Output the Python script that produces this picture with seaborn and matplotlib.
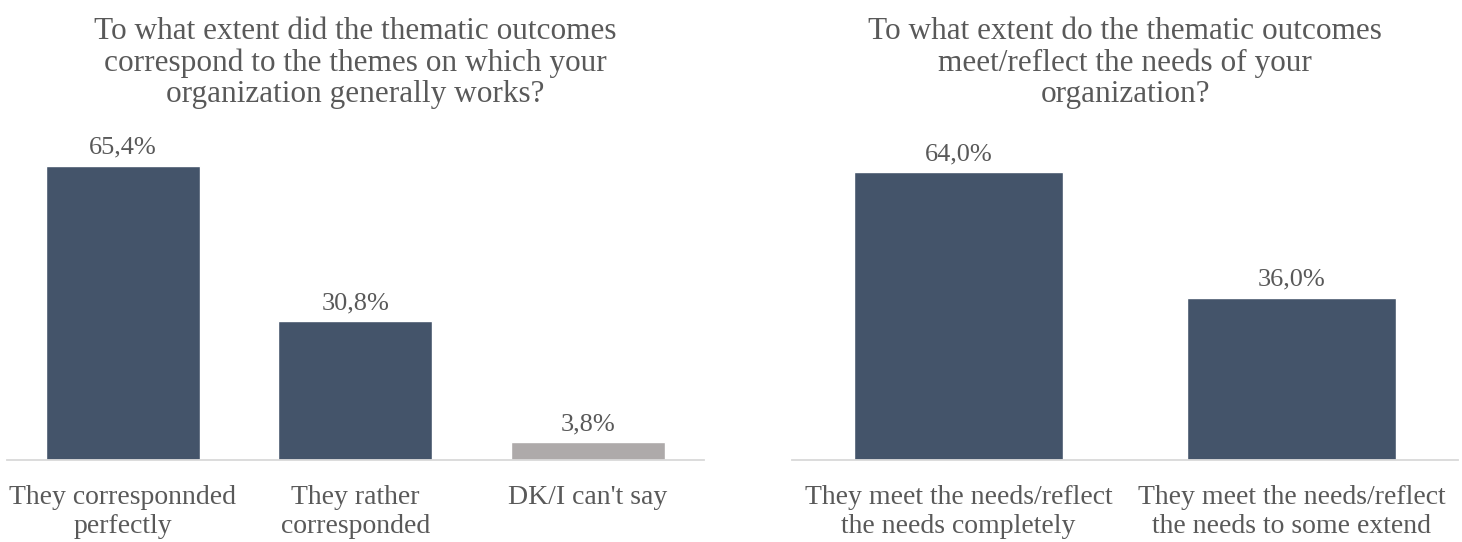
import matplotlib
matplotlib.use("Agg")
import matplotlib.pyplot as plt
import seaborn as sns
import pandas as pd

# Survey results, left panel
left_title = "To what extent did the thematic outcomes\ncorrespond to the themes on which your\norganization generally works?"
left_categories = ["They corresponnded\nperfectly", "They rather\ncorresponded", "DK/I can't say"]
left_values = [65.4, 30.8, 3.8]
left_colors = ["#44546A", "#44546A", "#AEAAAA"]

# Survey results, right panel
right_title = "To what extent do the thematic outcomes\nmeet/reflect the needs of your\norganization?"
right_categories = ["They meet the needs/reflect\nthe needs completely", "They meet the needs/reflect\nthe needs to some extend"]
right_values = [64.0, 36.0]
right_colors = ["#44546A", "#44546A"]

sns.set_theme(style="white")
plt.rcParams["font.family"] = ["Liberation Serif", "DejaVu Serif"]

TEXT = "#595959"
W, H = 1462, 542
fig = plt.figure(figsize=(W / 100, H / 100), dpi=100)

base_px = 459.5
top_px = 130
px_per_pct = 4.49
ymax = (base_px - top_px) / px_per_pct


def panel(x0, x1, title, cats, vals, colors, bar_w):
    ax = fig.add_axes([x0 / W, (H - base_px) / H, (x1 - x0) / W, (base_px - top_px) / H])
    df = pd.DataFrame({"cat": cats, "val": vals})
    sns.barplot(data=df, x="cat", y="val", hue="cat", palette=colors,
                legend=False, width=bar_w, saturation=1, ax=ax)
    ax.set_ylim(0, ymax)
    ax.set_xlim(-0.5, len(cats) - 0.5)
    for c in ax.containers:
        labels = [f"{v:.1f}%".replace(".", ",") for v in c.datavalues]
        ax.bar_label(c, labels=labels, padding=5, fontsize=19, color=TEXT)
    for s in ["top", "right", "left"]:
        ax.spines[s].set_visible(False)
    ax.spines["bottom"].set_color("#D9D9D9")
    ax.spines["bottom"].set_linewidth(1.3)
    ax.set_yticks([])
    ax.set_xlabel("")
    ax.set_ylabel("")
    ax.tick_params(axis="x", length=0, pad=18, labelsize=20, labelcolor=TEXT)
    for t in ax.get_xticklabels():
        t.set_linespacing(1.24)
    fig.text((x0 + x1) / 2 / W, 1 - 63 / H, title, ha="center", va="center",
             fontsize=22.5, color=TEXT, linespacing=1.1)
    return ax


panel(6.75, 704, left_title, left_categories, left_values, left_colors, 0.662)
panel(792, 1458, right_title, right_categories, right_values, right_colors, 0.625)

fig.savefig("out.png", dpi=100, facecolor="white")
